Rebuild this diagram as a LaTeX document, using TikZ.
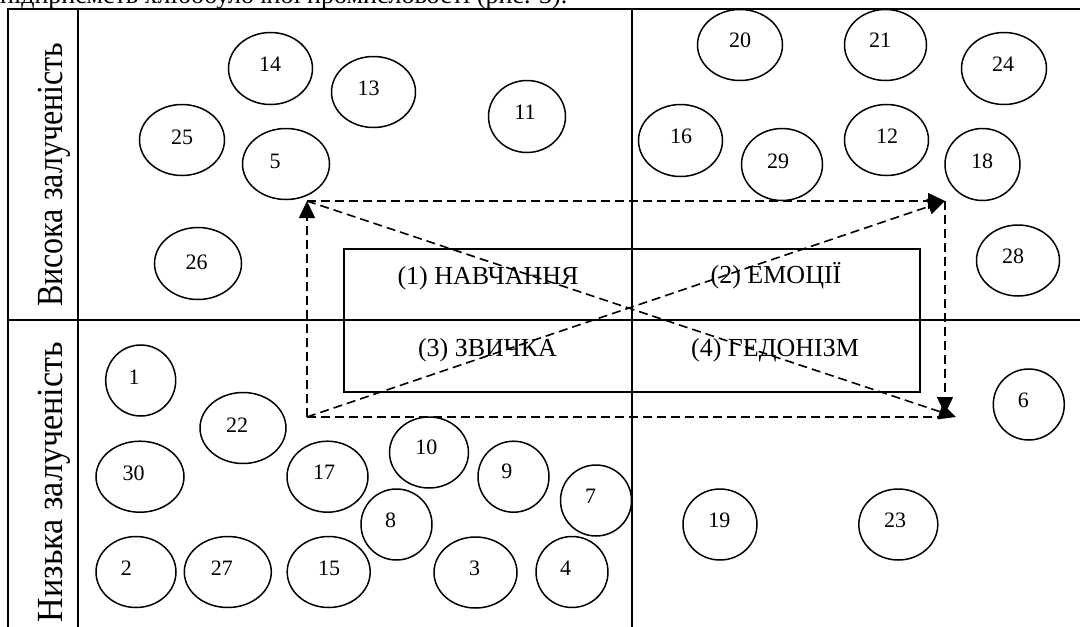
\documentclass[tikz,border=0pt]{standalone}
\usepackage{fontspec}
\setmainfont{Liberation Serif}
\usetikzlibrary{shapes.geometric,arrows.meta}
\tikzset{
 frame/.style={line width=1.7pt},
 ell/.style={draw, ellipse, line width=1.5pt, inner sep=0pt},
 num/.style={inner sep=0pt, font=\fontsize{22}{24}\selectfont},
 cell/.style={inner sep=0pt, anchor=base, font=\fontsize{26}{28}\selectfont},
 side/.style={inner sep=0pt, rotate=90, font=\fontsize{32}{34}\selectfont},
 flowplain/.style={line width=1.6pt, dash pattern=on 9pt off 5pt},
 flow/.style={flowplain, -{Triangle[length=17pt,width=16pt]}},
}
\newcommand\bub[7]{\node[ell,minimum width=#4pt,minimum height=#5pt] (e#1) at (#2,#3) {}; \node[num] (n#1) at (#6,#7) {#1};}
\begin{document}
\begin{tikzpicture}[x=1pt,y=-1pt]
\useasboundingbox (0,0) rectangle (1080,627);
\fill[white] (0,0) rectangle (1080,627);
% cropped caption line above the figure
\begin{scope}
\clip (0,0) rectangle (1080,627);
\node[anchor=base west, inner sep=0pt, font=\fontsize{26}{28}\selectfont] (cap) at (0,3.5) {підприємств хлібобулочної промисловості (рис. 3).};
\end{scope}
% frame
\draw[frame] (8,627) -- (8,9) -- (1080,9);
\draw[frame] (78,9) -- (78,627);
\draw[frame] (632,9) -- (632,627);
\draw[frame] (8,320) -- (1080,320);
% side labels
\node[side, anchor=base west] (hi) at (62,307) {\scalebox{1}[1.15]{Висока залученість}};
\node[side, anchor=base east] (lo) at (62,342) {\scalebox{1.065}[1.15]{Низька залученість}};
% central box
\node[draw, line width=1.7pt, minimum width=576pt, minimum height=143pt, inner sep=0pt] (box) at (632,320.5) {};
\node[cell] (t1) at (488,284) {(1) НАВЧАННЯ};
\node[cell] (t2) at (776,283) {(2) ЕМОЦІЇ};
\node[cell] (t3) at (487.5,356) {(3) ЗВИЧКА};
\node[cell] (t4) at (775,356) {(4) ГЕДОНІЗМ};
% bubbles: name, cx, cy, width, height, text x, text y
\bub{14}{270.5}{68.5}{84}{72}{270}{64}
\bub{13}{373.5}{92}{84}{71}{368.6}{88}
\bub{25}{182}{140}{85}{71}{182}{137}
\bub{5}{286}{164}{87}{71}{275}{161}
\bub{11}{527}{116.5}{77}{72}{525}{112}
\bub{26}{198}{263.5}{87}{72}{196.7}{262}
\bub{20}{740}{45}{85}{71}{740}{40}
\bub{21}{885.5}{45}{82}{71}{880}{40}
\bub{24}{1004}{68.5}{85}{72}{1003}{64}
\bub{16}{680.5}{140.5}{84}{72}{681}{136}
\bub{29}{782}{164.5}{81}{72}{778}{161}
\bub{12}{886.5}{140}{84}{71}{887}{136}
\bub{18}{982.5}{164.5}{75}{72}{982}{161}
\bub{28}{1018}{260.5}{83}{71}{1013}{256}
\bub{1}{140.7}{380.5}{70}{71}{134}{377}
\bub{22}{243}{428}{86}{71}{237}{425}
\bub{30}{140}{476.7}{88}{71}{133.6}{473}
\bub{17}{327.5}{476.7}{81}{71}{324}{472.7}
\bub{10}{429}{452.5}{79}{71}{426.4}{447.7}
\bub{9}{513.5}{476.7}{71}{71}{506.8}{471.7}
\bub{7}{596}{500.5}{71}{71}{590.7}{496}
\bub{8}{396.5}{524.5}{71}{71}{390.7}{520}
\bub{2}{136}{572}{80}{71}{126.4}{568.3}
\bub{27}{227.8}{572}{87}{71}{221.8}{568.3}
\bub{15}{328.7}{572}{83}{71}{329}{568.3}
\bub{3}{475.5}{572.5}{83}{71}{474.6}{568.3}
\bub{4}{572}{572}{72}{71}{565.7}{568.3}
\bub{6}{1028.8}{404.5}{71}{71}{1023.3}{400}
\bub{19}{720}{524.5}{74}{71}{719.3}{520}
\bub{23}{898.3}{524.5}{79}{71}{895}{520}
% movement arrows
\coordinate (TL) at (307,201);
\coordinate (TR) at (945,201);
\coordinate (BL) at (307,417);
\coordinate (BR) at (945,414);
\coordinate (BRh) at (945,417);
\coordinate (BRd) at (956,417);
\draw[flow] (BL) -- (TL);
\draw[flow] (TL) -- (TR);
\draw[flow] (BL) -- (TR);
\draw[flow] (TR) -- (BR);
\draw[flow] (TL) -- (BRd);
\draw[flowplain] (BL) -- (BRh);
\end{tikzpicture}
\end{document}
